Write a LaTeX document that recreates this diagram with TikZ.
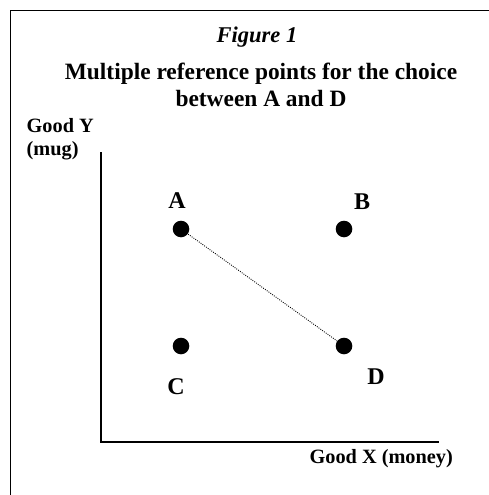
\documentclass[tikz,border=0pt]{standalone}
\usepackage{fontspec}
\setmainfont{Liberation Serif}
\usetikzlibrary{backgrounds}
\begin{document}
\begin{tikzpicture}[x=1pt,y=-1pt,
  pt/.style={circle,fill=black,inner sep=0pt,minimum size=16.6pt},
  ptlabel/.style={anchor=base,inner sep=0pt,font=\fontsize{24}{28}\selectfont\bfseries},
  axlabel/.style={inner sep=0pt,font=\fontsize{20.3}{24}\selectfont\bfseries},
  titletext/.style={anchor=base,inner sep=0pt,font=\fontsize{23.4}{28}\selectfont\bfseries},
  axisline/.style={line width=2pt},
  frameline/.style={line width=1.7pt}]
\useasboundingbox (0,0) rectangle (489,495);
% frame (open at right and bottom)
\coordinate (f1) at (10.5,495);
\coordinate (f2) at (10.5,10.5);
\coordinate (f3) at (489,10.5);
\draw[frameline] (f1) -- (f2) -- (f3);
% titles
\node[titletext,font=\fontsize{22.5}{27}\selectfont\bfseries\itshape] (fig) at (257,43) {Figure 1};
\node[titletext] (t1) at (261,80) {Multiple reference points for the choice};
\node[titletext] (t2) at (261,106) {between A and D};
% axis labels
\node[axlabel,anchor=base west] (gy1) at (26.5,132) {Good Y};
\node[axlabel,anchor=base west] (gy2) at (26.5,155) {(mug)};
\node[axlabel,anchor=base east] (gx) at (453,463) {Good X (money)};
% axes
\coordinate (ytop) at (101,152);
\coordinate (o) at (101,442);
\coordinate (xend) at (439,442);
\draw[axisline] (ytop) -- (o) -- (xend);
% points
\node[pt] (a) at (181,229) {};
\node[pt] (b) at (344,229) {};
\node[pt] (c) at (181,346) {};
\node[pt] (d) at (344,346) {};
\begin{scope}[on background layer]
\draw[line width=0.9pt,dash pattern=on 0.9pt off 1.3pt] (a.center) -- (d.center);
\end{scope}
% point labels
\node[ptlabel] (la) at (177,208) {A};
\node[ptlabel] (lb) at (362,209) {B};
\node[ptlabel] (lc) at (176,394) {C};
\node[ptlabel] (ld) at (376,384) {D};
\end{tikzpicture}
\end{document}
